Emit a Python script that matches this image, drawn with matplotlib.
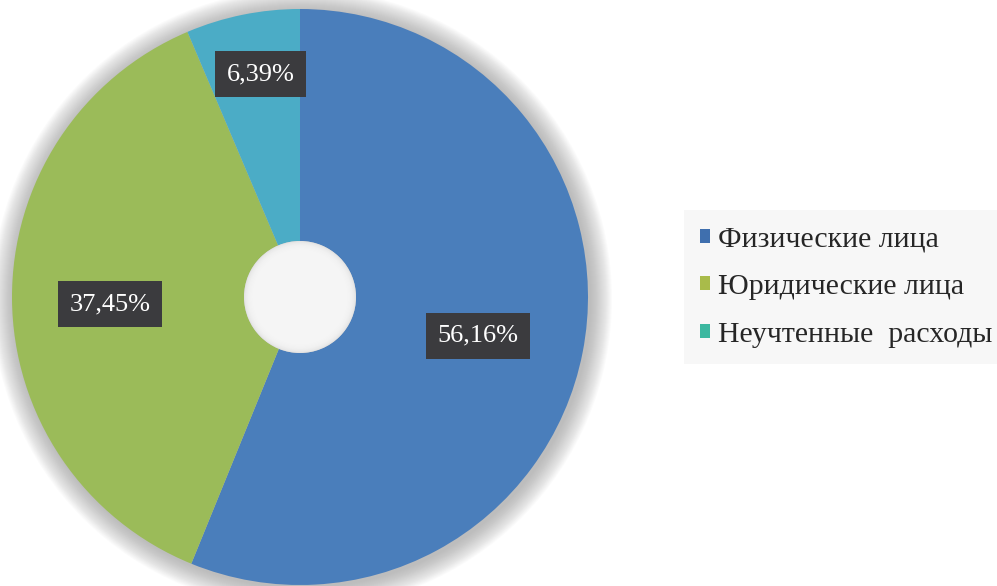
import numpy as np
import matplotlib
matplotlib.use("Agg")
import matplotlib.pyplot as plt
from matplotlib.patches import Circle

categories = ["Физические лица", "Юридические лица", "Неучтенные  расходы"]
shares = [56.16, 37.45, 6.39]
value_labels = ["56,16%", "37,45%", "6,39%"]
colors = ["#4a7ebb", "#9bbb59", "#4bacc6"]
legend_colors = ["#3f6fae", "#a9bb4a", "#3cb8a0"]

W, H = 997, 586
fig = plt.figure(figsize=(W / 100, H / 100), dpi=100)
fig.patch.set_facecolor("white")
ax = fig.add_axes([0, 0, 1, 1])

cx, cy = 300, H - 297
R = 288
hole = 56

# soft halo behind the ring
for i in range(22, 0, -1):
    ax.add_patch(Circle((cx + 2, cy - 2), R + i, facecolor="#8a8a8a",
                        edgecolor="none", alpha=0.03, zorder=0))

wedges, _ = ax.pie(shares, colors=colors, startangle=90, counterclock=False,
                   center=(cx, cy), radius=R, frame=True,
                   wedgeprops=dict(width=R - hole, linewidth=0))

# shaded centre hole
ax.add_patch(Circle((cx, cy), hole, facecolor="#e4e4e4",
                    edgecolor="none", zorder=3))
for i in range(10):
    ax.add_patch(Circle((cx, cy), hole - 1 - i, facecolor="#f8f8f8",
                        edgecolor="none", alpha=0.25, zorder=4))

# value labels in dark boxes
radial_frac = [0.63, 0.66, 0.79]
y_shift = [-4, -6, 0]
x_shift = [0, 0, 6]
for w, lab, fr, dx, dy in zip(wedges, value_labels, radial_frac, x_shift, y_shift):
    ang = np.deg2rad((w.theta1 + w.theta2) / 2)
    x = cx + R * fr * np.cos(ang) + dx
    y = cy + R * fr * np.sin(ang) + dy
    ax.text(x, y, lab, ha="center", va="center", color="white",
            family="Liberation Serif", fontsize=19, zorder=6,
            bbox=dict(boxstyle="square,pad=0.45", facecolor="#3b3b3e",
                      edgecolor="none"))

ax.set_xlim(0, W)
ax.set_ylim(0, H)
ax.set_aspect("equal")
ax.axis("off")

handles = [plt.Rectangle((0, 0), 1, 1, facecolor=c, edgecolor="none")
           for c in legend_colors]
leg = fig.legend(handles, categories, loc="center left",
                 bbox_to_anchor=(684 / W, 1 - 287 / H),
                 prop=dict(family="Liberation Serif", size=21.5),
                 handlelength=0.33, handleheight=0.33, handletextpad=0.25,
                 labelspacing=0.72, frameon=True, fancybox=False,
                 borderpad=0.55, borderaxespad=0)
leg.get_frame().set_facecolor("#f6f6f6")
leg.get_frame().set_edgecolor("none")
for t in leg.get_texts():
    t.set_color("#262626")

fig.savefig("out.png", dpi=100, facecolor="white")
